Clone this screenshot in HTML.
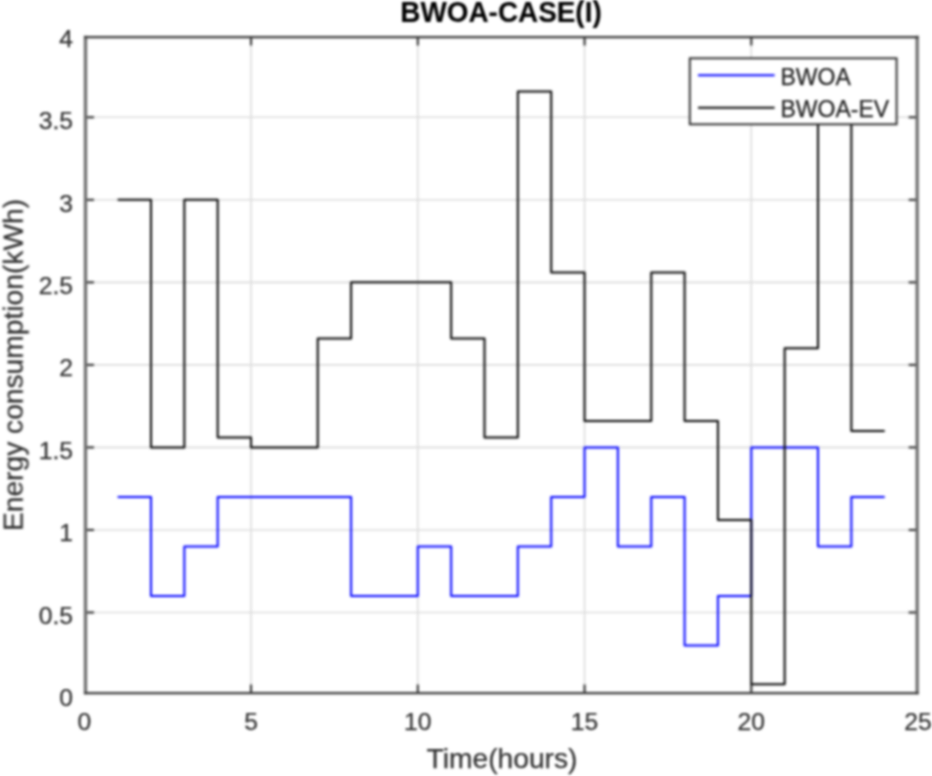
<!DOCTYPE html>
<html><head><meta charset="utf-8"><title>BWOA-CASE(I)</title>
<style>
html,body{margin:0;padding:0;background:#fff;}
body{width:932px;height:776px;overflow:hidden;}
svg{display:block;}
text{font-family:"Liberation Sans",Arial,Helvetica,sans-serif;fill:#303030;stroke:#303030;stroke-width:0.25px;}
.ttl{fill:#000;stroke:#000;stroke-width:0.1px;}
.lg{fill:#222;stroke:#222;stroke-width:0.25px;}
</style></head><body>
<svg width="932" height="776" viewBox="0 0 932 776">
<defs>
<filter id="b" x="-2%" y="-2%" width="104%" height="104%" color-interpolation-filters="sRGB"><feGaussianBlur in="SourceGraphic" stdDeviation="0.8" result="a"/><feGaussianBlur in="SourceGraphic" stdDeviation="1.34" result="c"/><feComposite in="a" in2="c" operator="arithmetic" k1="0" k2="0.7" k3="0.3" k4="0"/></filter>
<filter id="t" x="-2%" y="-2%" width="104%" height="104%" color-interpolation-filters="sRGB"><feGaussianBlur in="SourceGraphic" stdDeviation="0.8" result="a"/><feGaussianBlur in="SourceGraphic" stdDeviation="1.34" result="c"/><feComposite in="a" in2="c" operator="arithmetic" k1="0" k2="0.5" k3="0.5" k4="0"/></filter>
</defs>
<rect width="932" height="776" fill="#fff"/>
<g filter="url(#t)">
<line x1="251.05" y1="37.00" x2="251.05" y2="693.00" stroke="#dcdcdc" stroke-width="1.6"/>
<line x1="417.80" y1="37.00" x2="417.80" y2="693.00" stroke="#dcdcdc" stroke-width="1.6"/>
<line x1="584.55" y1="37.00" x2="584.55" y2="693.00" stroke="#dcdcdc" stroke-width="1.6"/>
<line x1="751.30" y1="37.00" x2="751.30" y2="693.00" stroke="#dcdcdc" stroke-width="1.6"/>
<line x1="85.50" y1="612.47" x2="917.20" y2="612.47" stroke="#dcdcdc" stroke-width="1.6"/>
<line x1="85.50" y1="529.94" x2="917.20" y2="529.94" stroke="#dcdcdc" stroke-width="1.6"/>
<line x1="85.50" y1="447.41" x2="917.20" y2="447.41" stroke="#dcdcdc" stroke-width="1.6"/>
<line x1="85.50" y1="364.88" x2="917.20" y2="364.88" stroke="#dcdcdc" stroke-width="1.6"/>
<line x1="85.50" y1="282.35" x2="917.20" y2="282.35" stroke="#dcdcdc" stroke-width="1.6"/>
<line x1="85.50" y1="199.82" x2="917.20" y2="199.82" stroke="#dcdcdc" stroke-width="1.6"/>
<line x1="85.50" y1="117.29" x2="917.20" y2="117.29" stroke="#dcdcdc" stroke-width="1.6"/>
<line x1="251.05" y1="693.00" x2="251.05" y2="684.50" stroke="#262626" stroke-width="2"/>
<line x1="251.05" y1="37.00" x2="251.05" y2="45.50" stroke="#262626" stroke-width="2"/>
<line x1="417.80" y1="693.00" x2="417.80" y2="684.50" stroke="#262626" stroke-width="2"/>
<line x1="417.80" y1="37.00" x2="417.80" y2="45.50" stroke="#262626" stroke-width="2"/>
<line x1="584.55" y1="693.00" x2="584.55" y2="684.50" stroke="#262626" stroke-width="2"/>
<line x1="584.55" y1="37.00" x2="584.55" y2="45.50" stroke="#262626" stroke-width="2"/>
<line x1="751.30" y1="693.00" x2="751.30" y2="684.50" stroke="#262626" stroke-width="2"/>
<line x1="751.30" y1="37.00" x2="751.30" y2="45.50" stroke="#262626" stroke-width="2"/>
<line x1="85.50" y1="612.47" x2="94.00" y2="612.47" stroke="#262626" stroke-width="2"/>
<line x1="917.20" y1="612.47" x2="908.70" y2="612.47" stroke="#262626" stroke-width="2"/>
<line x1="85.50" y1="529.94" x2="94.00" y2="529.94" stroke="#262626" stroke-width="2"/>
<line x1="917.20" y1="529.94" x2="908.70" y2="529.94" stroke="#262626" stroke-width="2"/>
<line x1="85.50" y1="447.41" x2="94.00" y2="447.41" stroke="#262626" stroke-width="2"/>
<line x1="917.20" y1="447.41" x2="908.70" y2="447.41" stroke="#262626" stroke-width="2"/>
<line x1="85.50" y1="364.88" x2="94.00" y2="364.88" stroke="#262626" stroke-width="2"/>
<line x1="917.20" y1="364.88" x2="908.70" y2="364.88" stroke="#262626" stroke-width="2"/>
<line x1="85.50" y1="282.35" x2="94.00" y2="282.35" stroke="#262626" stroke-width="2"/>
<line x1="917.20" y1="282.35" x2="908.70" y2="282.35" stroke="#262626" stroke-width="2"/>
<line x1="85.50" y1="199.82" x2="94.00" y2="199.82" stroke="#262626" stroke-width="2"/>
<line x1="917.20" y1="199.82" x2="908.70" y2="199.82" stroke="#262626" stroke-width="2"/>
<line x1="85.50" y1="117.29" x2="94.00" y2="117.29" stroke="#262626" stroke-width="2"/>
<line x1="917.20" y1="117.29" x2="908.70" y2="117.29" stroke="#262626" stroke-width="2"/>
<path d="M117.65 496.93 L151.00 496.93 L151.00 595.96 L184.35 595.96 L184.35 546.45 L217.70 546.45 L217.70 496.93 L251.05 496.93 L251.05 496.93 L284.40 496.93 L284.40 496.93 L317.75 496.93 L317.75 496.93 L351.10 496.93 L351.10 595.96 L384.45 595.96 L384.45 595.96 L417.80 595.96 L417.80 546.45 L451.15 546.45 L451.15 595.96 L484.50 595.96 L484.50 595.96 L517.85 595.96 L517.85 546.45 L551.20 546.45 L551.20 496.93 L584.55 496.93 L584.55 447.41 L617.90 447.41 L617.90 546.45 L651.25 546.45 L651.25 496.93 L684.60 496.93 L684.60 645.48 L717.95 645.48 L717.95 595.96 L751.30 595.96 L751.30 447.41 L784.65 447.41 L784.65 447.41 L818.00 447.41 L818.00 546.45 L851.35 546.45 L851.35 496.93 L884.70 496.93" fill="none" stroke="#00f" stroke-width="2" stroke-linejoin="round"/>
<path d="M117.65 199.82 L151.00 199.82 L151.00 447.41 L184.35 447.41 L184.35 199.82 L217.70 199.82 L217.70 437.51 L251.05 437.51 L251.05 447.41 L284.40 447.41 L284.40 447.41 L317.75 447.41 L317.75 338.47 L351.10 338.47 L351.10 282.35 L384.45 282.35 L384.45 282.35 L417.80 282.35 L417.80 282.35 L451.15 282.35 L451.15 338.47 L484.50 338.47 L484.50 437.51 L517.85 437.51 L517.85 91.60 L551.20 91.60 L551.20 272.45 L584.55 272.45 L584.55 421.00 L617.90 421.00 L617.90 421.00 L651.25 421.00 L651.25 272.45 L684.60 272.45 L684.60 421.00 L717.95 421.00 L717.95 520.04 L751.30 520.04 L751.30 684.30 L784.65 684.30 L784.65 348.37 L818.00 348.37 L818.00 100.78 L851.35 100.78 L851.35 430.90 L884.70 430.90" fill="none" stroke="#000" stroke-width="2" stroke-linejoin="round"/>
<line x1="85.50" y1="35.80" x2="85.50" y2="694.20" stroke="#6e6e6e" stroke-width="3.3"/>
<line x1="917.20" y1="35.80" x2="917.20" y2="694.20" stroke="#6e6e6e" stroke-width="3.3"/>
<line x1="84.00" y1="37.00" x2="918.70" y2="37.00" stroke="#373737" stroke-width="2.25"/>
<line x1="84.00" y1="693.00" x2="918.70" y2="693.00" stroke="#373737" stroke-width="2.25"/>
<rect x="689.8" y="58.3" width="206.8" height="66" fill="#fff" stroke="#1c1c1c" stroke-width="1.8"/>
<line x1="698" y1="75.2" x2="774.6" y2="75.2" stroke="#00f" stroke-width="2"/>
<line x1="698" y1="107.8" x2="774.6" y2="107.8" stroke="#000" stroke-width="2"/>
</g><g filter="url(#b)">
<text class="lg" x="780.5" y="84.5" font-size="23">BWOA</text>
<text class="lg" x="780.5" y="117.1" font-size="23">BWOA-EV</text>
<text x="84.30" y="729.9" font-size="24.7" text-anchor="middle">0</text>
<text x="251.05" y="729.9" font-size="24.7" text-anchor="middle">5</text>
<text x="417.80" y="729.9" font-size="24.7" text-anchor="middle">10</text>
<text x="584.55" y="729.9" font-size="24.7" text-anchor="middle">15</text>
<text x="751.30" y="729.9" font-size="24.7" text-anchor="middle">20</text>
<text x="918.05" y="729.9" font-size="24.7" text-anchor="middle">25</text>
<text x="73" y="705.90" font-size="24.7" text-anchor="end">0</text>
<text x="73" y="623.50" font-size="24.7" text-anchor="end">0.5</text>
<text x="73" y="541.10" font-size="24.7" text-anchor="end">1</text>
<text x="73" y="458.70" font-size="24.7" text-anchor="end">1.5</text>
<text x="73" y="376.30" font-size="24.7" text-anchor="end">2</text>
<text x="73" y="293.90" font-size="24.7" text-anchor="end">2.5</text>
<text x="73" y="211.50" font-size="24.7" text-anchor="end">3</text>
<text x="73" y="129.10" font-size="24.7" text-anchor="end">3.5</text>
<text x="73" y="46.70" font-size="24.7" text-anchor="end">4</text>
<text x="502" y="767.8" font-size="28.2" text-anchor="middle">Time(hours)</text>
<text transform="translate(22.6,365) rotate(-90)" font-size="28.2" text-anchor="middle">Energy consumption(kWh)</text>
<text transform="translate(501,22.4) scale(1,1.07)" font-size="27.9" font-weight="bold" text-anchor="middle" class="ttl">BWOA-CASE(I)</text>
</g></svg></body></html>
